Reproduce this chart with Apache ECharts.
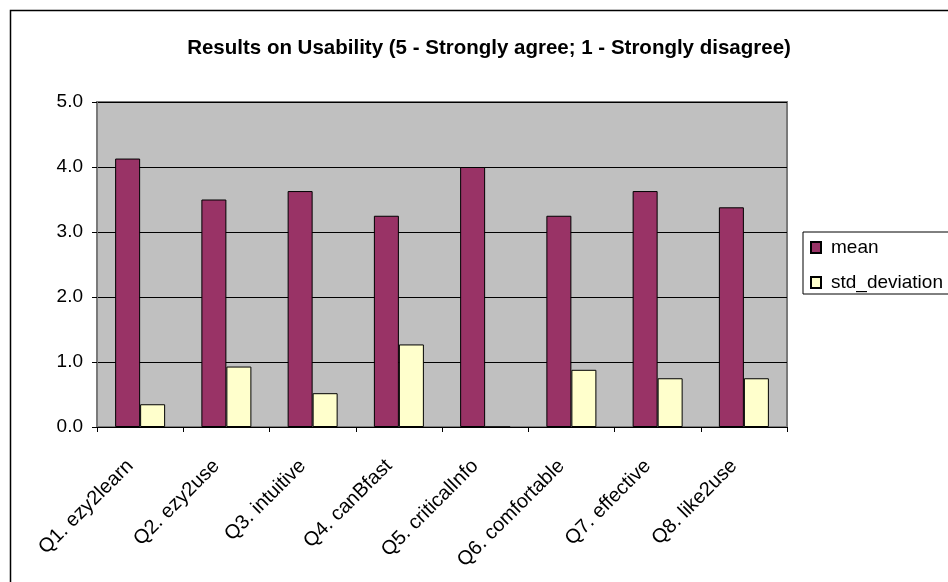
<!DOCTYPE html>
<html>
<head>
<meta charset="utf-8">
<script src="https://cdn.jsdelivr.net/npm/echarts@6/dist/echarts.min.js"></script>
<style>
  html, body { margin: 0; padding: 0; background: #fff; }
  #chart { width: 948px; height: 582px; }
</style>
</head>
<body>
<div id="chart"></div>
<script>
// Survey questions and their scores
const questions = ['Q1. ezy2learn', 'Q2. ezy2use', 'Q3. intuitive', 'Q4. canBfast',
                   'Q5. criticalInfo', 'Q6. comfortable', 'Q7. effective', 'Q8. like2use'];
const meanScores = [4.13, 3.50, 3.63, 3.25, 4.00, 3.25, 3.63, 3.38];
const stdDeviation = [0.35, 0.93, 0.52, 1.27, 0.00, 0.88, 0.75, 0.75];
const yTicks = [0, 1, 2, 3, 4, 5];

const chart = echarts.init(document.getElementById('chart'), null, { renderer: 'canvas' });
const font = '"Liberation Sans", Arial, sans-serif';

chart.setOption({
  backgroundColor: '#ffffff',
  animation: false,
  title: {
    text: 'Results on Usability (5 - Strongly agree; 1 - Strongly disagree)',
    left: 484, top: 33, textAlign: 'center',
    textStyle: { fontFamily: font, fontSize: 20.5, fontWeight: 'bold', color: '#000' }
  },
  graphic: [{
    type: 'rect', left: 8, top: 8, z: -1,
    shape: { width: 960, height: 600 },
    style: { fill: 'none', stroke: '#000', lineWidth: 1.5 }
  }],
  legend: {
    left: 803, top: 232, orient: 'vertical',
    backgroundColor: '#fff', borderColor: '#000', borderWidth: 1,
    padding: [6, 40, 2, 7], itemGap: 16,
    itemWidth: 10, itemHeight: 11, icon: 'rect',
    textStyle: { fontFamily: font, fontSize: 19, color: '#000', padding: [0, 0, 0, 5] },
    data: ['mean', 'std_deviation']
  },
  grid: {
    left: 97, top: 102, width: 690, height: 325,
    show: true, backgroundColor: '#C0C0C0', borderColor: '#7a7a7a', borderWidth: 2
  },
  xAxis: {
    type: 'category', data: questions,
    axisLine: { lineStyle: { color: '#000', width: 1 } },
    axisTick: { show: true, length: 5, lineStyle: { color: '#000' } },
    axisLabel: { interval: 0, rotate: 45, margin: 26, padding: [0, 14, 0, 0],
                 fontFamily: font, fontSize: 20, color: '#000' }
  },
  yAxis: {
    type: 'value', min: yTicks[0], max: yTicks[yTicks.length - 1], interval: 1,
    axisLine: { show: true, lineStyle: { color: '#7a7a7a', width: 2 } },
    axisTick: { show: true, length: 5, lineStyle: { color: '#000' } },
    axisLabel: { fontFamily: font, fontSize: 19, color: '#000', margin: 14,
                 formatter: v => v.toFixed(1) },
    splitLine: { lineStyle: { color: '#000', width: 1 } }
  },
  series: [
    {
      name: 'mean', type: 'bar', data: meanScores,
      barWidth: 25, barGap: '0%',
      itemStyle: { color: '#993366', borderColor: '#000', borderWidth: 1 }
    },
    {
      name: 'std_deviation', type: 'bar', data: stdDeviation,
      barWidth: 25,
      itemStyle: { color: '#FFFFCC', borderColor: '#000', borderWidth: 1 }
    }
  ]
});
</script>
</body>
</html>
